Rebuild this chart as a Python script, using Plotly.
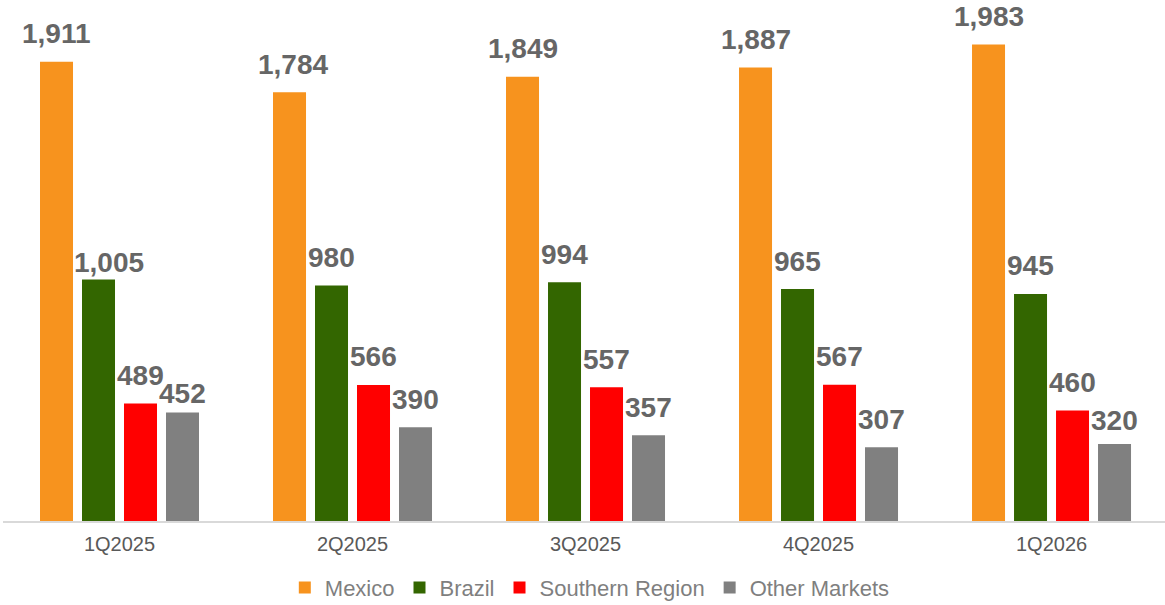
import plotly.graph_objects as go

# Quarterly volumes by market
quarters = ["1Q2025", "2Q2025", "3Q2025", "4Q2025", "1Q2026"]
mexico = [1911, 1784, 1849, 1887, 1983]
brazil = [1005, 980, 994, 965, 945]
southern = [489, 566, 557, 567, 460]
other = [452, 390, 357, 307, 320]

series = [
    ("Mexico", mexico, "#F7931E"),
    ("Brazil", brazil, "#336600"),
    ("Southern Region", southern, "#FF0000"),
    ("Other Markets", other, "#808080"),
]

BARGAP = 0.279
BARGROUPGAP = 0.214
X_RANGE = [-0.5, 4.487]
Y_MAX = 2168

# per-label nudges (series index, quarter index) -> (dx px, dy px)
nudges = {(1, 0): (10, -11), (3, 0): (0, -9), (3, 4): (0, -4), (0, 1): (3, 0)}

fig = go.Figure()
for name, vals, color in series:
    fig.add_trace(go.Bar(
        x=quarters, y=vals, name=name,
        marker=dict(color=color, line=dict(width=0)),
        hoverinfo="x+y+name",
    ))

# value labels placed on a numeric twin of the category axis
slot = (1 - BARGAP) / len(series)
annotations = []
for k, (name, vals, color) in enumerate(series):
    offset = (k - (len(series) - 1) / 2) * slot
    for i, v in enumerate(vals):
        dx, dy = nudges.get((k, i), (0, 0))
        annotations.append(dict(
            x=i + offset, y=v, xref="x2", yref="y",
            text=f"{v:,}", showarrow=False,
            xanchor="center", yanchor="middle",
            xshift=dx, yshift=28 + dy,
            font=dict(family="Liberation Sans, Arial, sans-serif", size=28,
                      color="#666666", weight="bold"),
        ))

fig.update_layout(
    width=1165, height=605,
    margin=dict(l=3, r=0, t=0, b=84, autoexpand=False),
    paper_bgcolor="white", plot_bgcolor="white",
    barmode="group", bargap=BARGAP, bargroupgap=BARGROUPGAP,
    font=dict(family="Liberation Sans, Arial, sans-serif"),
    xaxis=dict(
        type="category", range=X_RANGE,
        showline=True, linecolor="#d9d9d9", linewidth=2,
        showgrid=False, zeroline=False, ticks="",
        ticklabelstandoff=4,
        tickfont=dict(size=20, color="#595959"),
    ),
    xaxis2=dict(
        type="linear", range=X_RANGE, overlaying="x",
        visible=False, showgrid=False, zeroline=False,
    ),
    yaxis=dict(
        range=[0, Y_MAX], visible=False, showgrid=False, zeroline=False,
    ),
    legend=dict(
        orientation="h", x=0.505, xanchor="center", y=-0.128, yanchor="middle",
        font=dict(size=22, color="#7f7f7f"),
        itemwidth=30, traceorder="normal", tracegroupgap=0,
    ),
    annotations=annotations,
    showlegend=True,
)

fig.write_html("out.html")
